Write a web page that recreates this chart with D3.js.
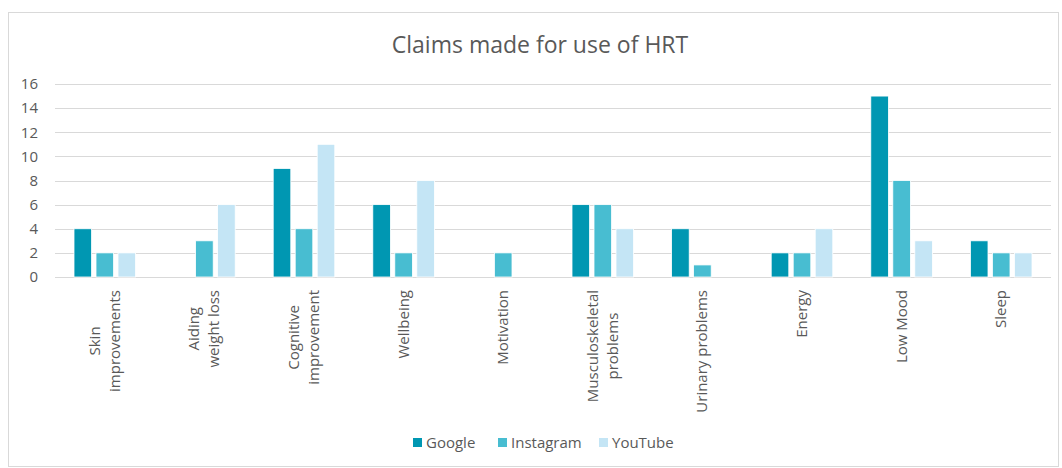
<!DOCTYPE html>
<html>
<head>
<meta charset="utf-8">
<script src="https://cdn.jsdelivr.net/npm/d3@7"></script>
<style>
  body { margin: 0; background: #fff; }
  text { font-family: "Open Sans", "Liberation Sans", sans-serif; fill: #595959; }
</style>
</head>
<body>
<div id="chart"></div>
<script>
const categories = ["Skin\nimprovements", "Aiding\nweight loss", "Cognitive\nimprovement", "Wellbeing",
  "Motivation", "Musculoskeletal\nproblems", "Urinary problems", "Energy", "Low Mood", "Sleep"];
const seriesNames = ["Google", "Instagram", "YouTube"];
const google = [4, 0, 9, 6, 0, 6, 4, 2, 15, 3];
const instagram = [2, 3, 4, 2, 2, 6, 1, 2, 8, 2];
const youtube = [2, 6, 11, 8, 0, 4, 0, 4, 3, 2];
const yTicks = [0, 2, 4, 6, 8, 10, 12, 14, 16];
const colors = ["#0097b2", "#48bdd1", "#c4e5f5"];

const W = 1062, H = 468;
const margin = {top: 84, right: 11, bottom: 191, left: 55};
const width = W - margin.left - margin.right;
const height = H - margin.top - margin.bottom;

const svg = d3.select("#chart").append("svg")
    .attr("width", W)
    .attr("height", H);

svg.append("rect")
    .attr("x", 8.5).attr("y", 12.5)
    .attr("width", 1050).attr("height", 454)
    .attr("fill", "none")
    .attr("stroke", "#d9d9d9");

svg.append("text")
    .attr("x", 540).attr("y", 53)
    .attr("text-anchor", "middle")
    .style("font-size", "23px")
    .text("Claims made for use of HRT");

const g = svg.append("g").attr("transform", `translate(${margin.left},${margin.top})`);

const x = d3.scaleBand().domain(d3.range(categories.length)).range([0, width]);
const x1 = d3.scaleBand().domain(seriesNames).range([19, x.bandwidth() - 19]).paddingInner(0.2);
const y = d3.scaleLinear().domain([0, 16]).range([height, 0]);

// gridlines
g.append("g")
    .selectAll("line")
    .data(yTicks)
    .join("line")
    .attr("x1", 0).attr("x2", width)
    .attr("y1", d => Math.round(y(d)) + 0.5)
    .attr("y2", d => Math.round(y(d)) + 0.5)
    .attr("stroke", "#d9d9d9")
    .attr("stroke-width", 1.2);

// y labels
g.append("g")
    .selectAll("text")
    .data(yTicks)
    .join("text")
    .attr("x", -17)
    .attr("y", d => y(d))
    .attr("dy", "0.35em")
    .attr("text-anchor", "end")
    .style("font-size", "15px")
    .text(d => d);

const seriesData = [google, instagram, youtube];
const groups = g.selectAll(".grp")
    .data(categories.map((c, i) => i))
    .join("g")
    .attr("transform", i => `translate(${x(i)},0)`);

groups.selectAll("rect")
    .data(i => seriesNames.map((s, k) => ({s, k, v: seriesData[k][i]})).filter(d => d.v > 0))
    .join("rect")
    .attr("x", d => x1(d.s))
    .attr("width", x1.bandwidth())
    .attr("y", d => y(d.v))
    .attr("height", d => y(0) - y(d.v))
    .attr("fill", d => colors[d.k])
    .attr("stroke", "#fff")
    .attr("stroke-width", 0.8);

// category labels, rotated, block anchored at top
const labelTop = 290 - margin.top;
categories.forEach((c, i) => {
  const lines = c.split("\n");
  const cx = x(i) + x.bandwidth() / 2;
  const lg = g.append("g");
  const texts = lines.map((l, j) => lg.append("text")
      .attr("text-anchor", "middle")
      .style("font-size", "15px")
      .text(l));
  const maxW = d3.max(texts, t => t.node().getComputedTextLength());
  const cy = labelTop + maxW / 2;
  texts.forEach((t, j) => {
    const lx = cx + (j - (lines.length - 1) / 2) * 20 + 5;
    t.attr("transform", `translate(${lx},${cy}) rotate(-90)`);
  });
});

// legend
const legendX = [413, 498, 599];
const legend = svg.append("g");
seriesNames.forEach((s, k) => {
  legend.append("rect")
      .attr("x", legendX[k]).attr("y", 438)
      .attr("width", 9).attr("height", 9)
      .attr("fill", colors[k]);
  legend.append("text")
      .attr("x", legendX[k] + 13).attr("y", 448)
      .style("font-size", "15px")
      .text(s);
});
</script>
</body>
</html>
